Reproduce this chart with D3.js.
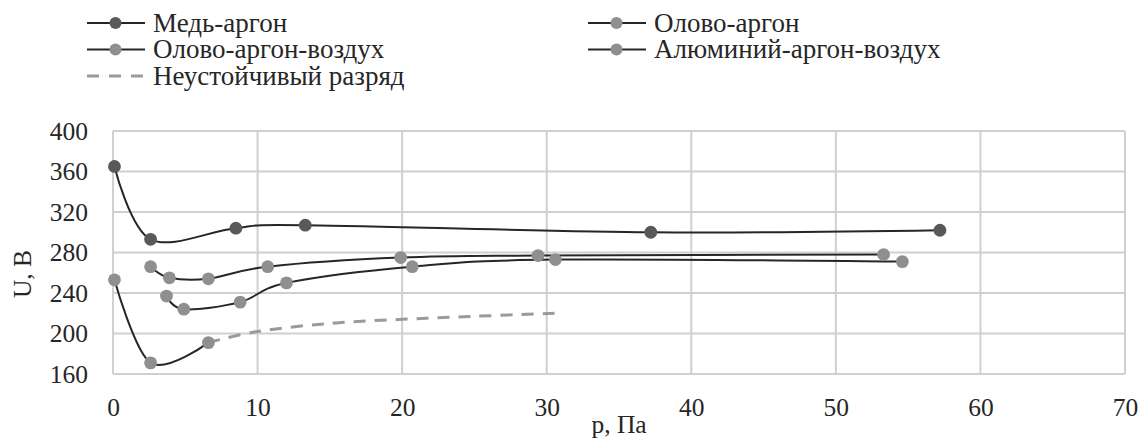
<!DOCTYPE html>
<html>
<head>
<meta charset="utf-8">
<script src="https://cdn.jsdelivr.net/npm/d3@7/dist/d3.min.js"></script>
<style>
  html, body { margin: 0; padding: 0; background: #fff; }
  svg { display: block; }
</style>
</head>
<body>
<svg id="chart" width="1142" height="441"></svg>
<script>
// Discharge voltage U (V) versus pressure p (Pa)
const xTicks = [0, 10, 20, 30, 40, 50, 60, 70];
const yTicks = [160, 200, 240, 280, 320, 360, 400];

const copperArgonP = [0.1, 2.6, 8.5, 13.3, 37.2, 57.2];
const copperArgonU = [365, 293, 304, 307, 300, 302];

const tinArgonP = [2.6, 3.9, 6.6, 10.7, 19.9, 29.4, 53.3];
const tinArgonU = [266, 255, 254, 266, 275, 277, 278];

const tinArgonAirP = [3.7, 4.9, 8.8, 12.0, 20.7, 30.6, 54.6];
const tinArgonAirU = [237, 224, 231, 250, 266, 273, 271];

const aluminiumArgonAirP = [0.1, 2.6, 6.6];
const aluminiumArgonAirU = [253, 171, 191];

const unstableP = [6.6, 10, 15, 20, 25, 30.6];
const unstableU = [191, 202, 210, 214, 217, 220];

const seriesNames = ["Медь-аргон", "Олово-аргон", "Олово-аргон-воздух", "Алюминий-аргон-воздух", "Неустойчивый разряд"];

const FONT = "Liberation Serif";
const FS_AXIS = 25.5, FS_LEGEND = 27;
const TEXT = "#262626";
const DARK = "#595959", LIGHT = "#8f8f8f", LINE = "#262626", GRID = "#d0d0d0", DASH = "#9a9a9a";

const svg = d3.select("#chart");
const m = { left: 113, right: 1125, top: 131, bottom: 374 };

const x = d3.scaleLinear().domain([0, 70]).range([m.left, m.right]);
const y = d3.scaleLinear().domain([160, 400]).range([m.bottom, m.top]);

// grid
const grid = svg.append("g");
grid.selectAll("line.h").data(yTicks).join("line")
  .attr("x1", m.left).attr("x2", m.right)
  .attr("y1", d => y(d)).attr("y2", d => y(d))
  .attr("stroke", GRID).attr("stroke-width", 2);
grid.selectAll("line.v").data(xTicks).join("line")
  .attr("y1", m.top).attr("y2", m.bottom)
  .attr("x1", d => x(d)).attr("x2", d => x(d))
  .attr("stroke", GRID).attr("stroke-width", 2);

const label = (sel, size) => sel.attr("font-family", FONT).attr("font-size", size).attr("fill", TEXT);

// axes (labels only; the frame lines come from the grid)
const xAxis = svg.append("g").attr("transform", `translate(0,${m.bottom})`)
  .call(d3.axisBottom(x).tickValues(xTicks).tickSize(0).tickPadding(23.5));
const yAxis = svg.append("g").attr("transform", `translate(${m.left},0)`)
  .call(d3.axisLeft(y).tickValues(yTicks).tickSize(0).tickPadding(25));
[xAxis, yAxis].forEach(a => {
  a.attr("font-family", FONT).attr("font-size", FS_AXIS);
  a.select(".domain").remove();
  label(a.selectAll("text"), FS_AXIS);
});

label(svg.append("text").attr("x", (m.left + m.right) / 2).attr("y", 433)
  .attr("text-anchor", "middle").text("p, Па"), FS_AXIS);
label(svg.append("text").attr("transform", "translate(31,274) rotate(-90)")
  .attr("text-anchor", "middle").text("U, В"), FS_AXIS);

const line = d3.line().x(d => x(d[0])).y(d => y(d[1])).curve(d3.curveCardinal);
const zip = (a, b) => a.map((v, i) => [v, b[i]]);

const series = [
  { pts: zip(copperArgonP, copperArgonU), color: DARK },
  { pts: zip(tinArgonP, tinArgonU), color: LIGHT },
  { pts: zip(tinArgonAirP, tinArgonAirU), color: LIGHT },
  { pts: zip(aluminiumArgonAirP, aluminiumArgonAirU), color: LIGHT }
];

// unstable discharge, dashed
svg.append("path").attr("d", line(zip(unstableP, unstableU)))
  .attr("fill", "none").attr("stroke", DASH).attr("stroke-width", 3)
  .attr("stroke-dasharray", "12,9");

series.forEach(s => {
  svg.append("path").attr("d", line(s.pts))
    .attr("fill", "none").attr("stroke", LINE).attr("stroke-width", 2);
});
series.forEach(s => {
  svg.append("g").selectAll("circle").data(s.pts).join("circle")
    .attr("cx", d => x(d[0])).attr("cy", d => y(d[1])).attr("r", 6.4)
    .attr("fill", s.color);
});

// legend
const legendItems = [
  { name: seriesNames[0], color: DARK, col: 0, row: 0 },
  { name: seriesNames[1], color: LIGHT, col: 1, row: 0 },
  { name: seriesNames[2], color: LIGHT, col: 0, row: 1 },
  { name: seriesNames[3], color: LIGHT, col: 1, row: 1 },
  { name: seriesNames[4], color: null, col: 0, row: 2 }
];
const colX = [87, 588], rowY = [23, 49.5, 76];
legendItems.forEach(it => {
  const g = svg.append("g").attr("transform", `translate(${colX[it.col]},${rowY[it.row]})`);
  if (it.color) {
    g.append("line").attr("x1", 0).attr("x2", 58).attr("stroke", LINE).attr("stroke-width", 2);
    g.append("circle").attr("cx", 28.5).attr("r", 6).attr("fill", it.color);
  } else {
    g.append("line").attr("x1", 0).attr("x2", 58).attr("stroke", DASH).attr("stroke-width", 3)
      .attr("stroke-dasharray", "12,10");
  }
  label(g.append("text").attr("x", 66).attr("dy", "0.33em").text(it.name), FS_LEGEND);
});
</script>
</body>
</html>
